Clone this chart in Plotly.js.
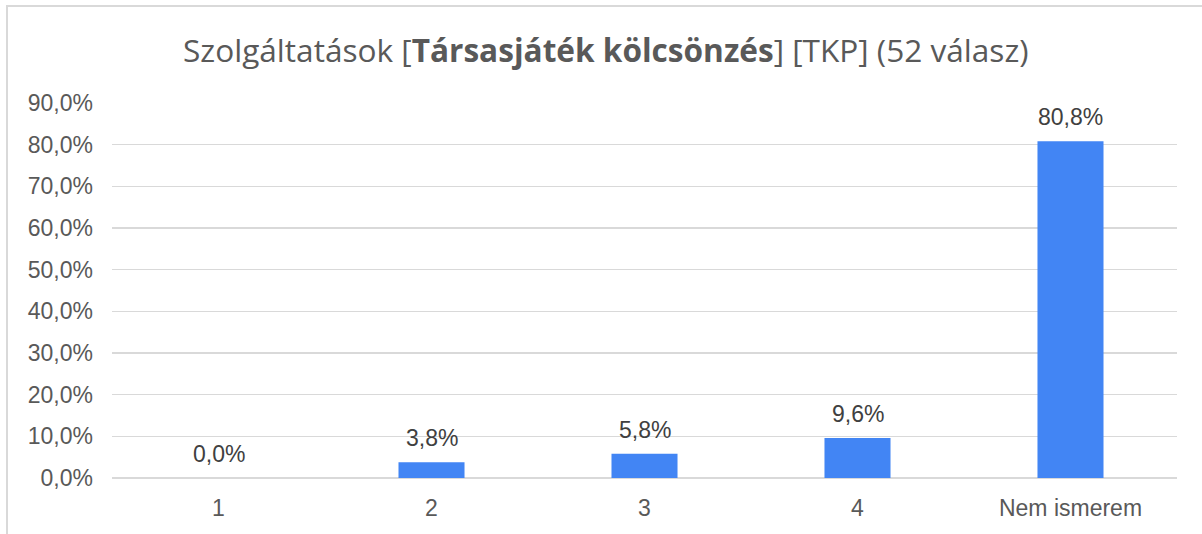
<!DOCTYPE html>
<html>
<head>
<meta charset="utf-8">
<script src="https://cdn.plot.ly/plotly-3.0.1.min.js"></script>
<style>
  html, body { margin: 0; padding: 0; background: #fff; }
  #wrap { position: relative; width: 1202px; height: 534px; }
  #chart { width: 1202px; height: 534px; }
  #frame { position: absolute; left: 6px; top: 5px; width: 1300px; height: 600px;
           border-left: 2px solid #d9d9d9; border-top: 2px solid #d9d9d9; pointer-events: none; }
</style>
</head>
<body>
<div id="wrap">
  <div id="chart"></div>
  <div id="frame"></div>
</div>
<script>
const categories = ["1", "2", "3", "4", "Nem ismerem"];
const shares = [0.0, 0.038, 0.058, 0.096, 0.808];
const titleText = "Szolgáltatások [<b>Társasjáték kölcsönzés</b>] [TKP] (52 válasz)";

const labelFont = { family: "Liberation Sans, Arial, sans-serif", size: 23, color: "#404040" };
const fmt = v => (v * 100).toFixed(1).replace(".", ",") + "%";

const trace = {
  type: "bar",
  x: categories,
  y: shares,
  marker: { color: "#4285F4" },
  hoverinfo: "none"
};

// category axis: annotation x given as the category's index
const annotations = categories.map((c, i) => ({
  x: i,
  y: shares[i],
  xref: "x",
  yref: "y",
  text: fmt(shares[i]),
  showarrow: false,
  yanchor: "bottom",
  xanchor: "center",
  yshift: 9,
  font: labelFont
}));

const layout = {
  width: 1202,
  height: 534,
  margin: { l: 112, r: 25, t: 103, b: 56 },
  paper_bgcolor: "#ffffff",
  plot_bgcolor: "#ffffff",
  separators: ", ",
  bargap: 0.69,
  showlegend: false,
  annotations: annotations,
  title: {
    text: titleText,
    x: 0.504,
    xanchor: "center",
    y: 0.905,
    yanchor: "middle",
    font: { family: "Open Sans, sans-serif", size: 31.6, color: "#595959" }
  },
  xaxis: {
    type: "category",
    showgrid: false,
    showline: false,
    ticks: "",
    tickfont: { family: "Liberation Sans, Arial, sans-serif", size: 23, color: "#595959" },
    ticklabelstandoff: 14
  },
  yaxis: {
    range: [0, 0.9],
    dtick: 0.1,
    tick0: 0,
    tickformat: ".1%",
    showgrid: true,
    gridcolor: "#d9d9d9",
    gridwidth: 1.5,
    zeroline: true,
    zerolinecolor: "#d9d9d9",
    zerolinewidth: 1.5,
    showline: false,
    ticks: "",
    ticklabelstandoff: 18,
    tickfont: { family: "Liberation Sans, Arial, sans-serif", size: 23, color: "#595959" }
  }
};

Plotly.newPlot("chart", [trace], layout, { displayModeBar: false, staticPlot: true });
</script>
</body>
</html>
